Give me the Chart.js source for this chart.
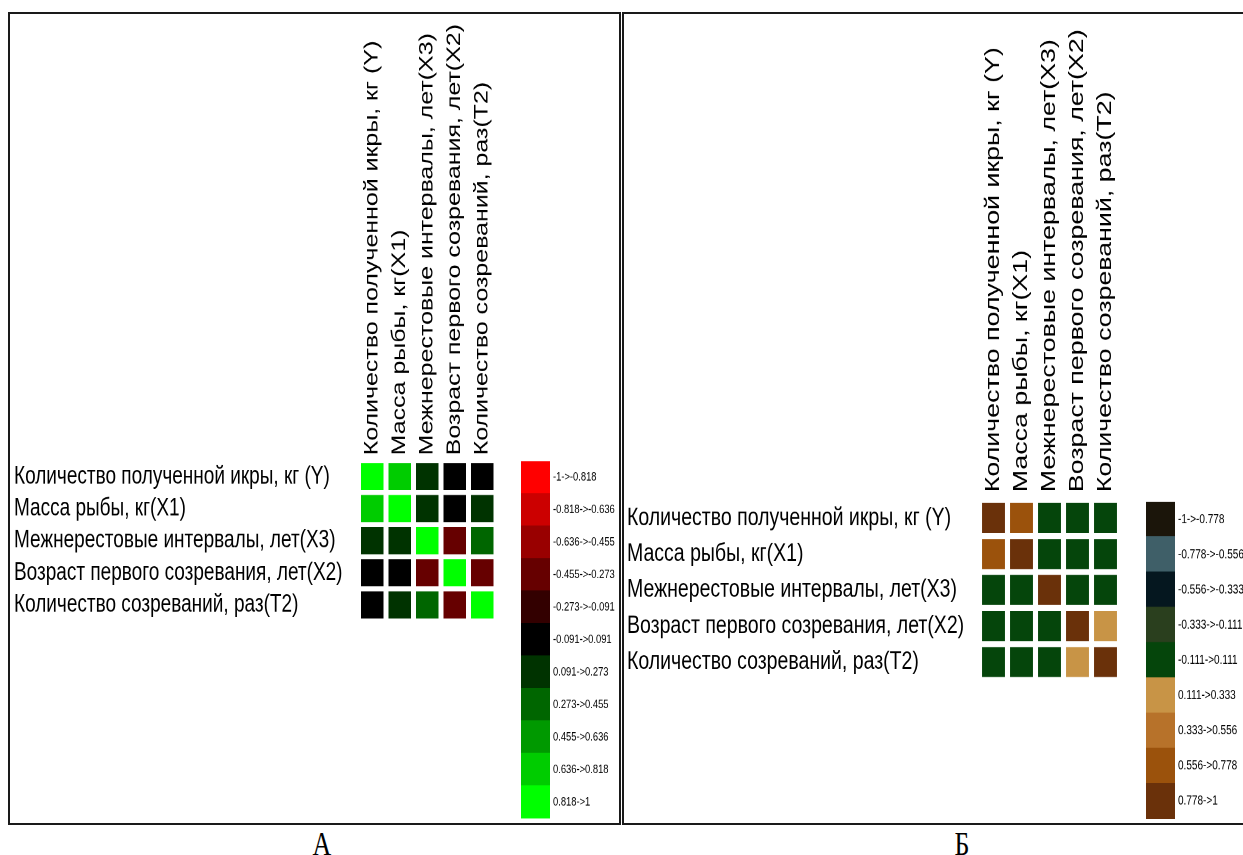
<!DOCTYPE html>
<html>
<head>
<meta charset="utf-8">
<script src="https://cdn.jsdelivr.net/npm/chart.js@4"></script>
<style>
  body { margin: 0; background: #fff; }
  #page { position: relative; width: 1243px; height: 855px; overflow: hidden; background: #fff; }
  .box { position: absolute; box-sizing: border-box; border: 2px solid #1a1a1a; }
  /* the source figure is stretched vertically, so every chart is drawn flat and scaled up */
  .wrap { position: absolute; transform: scaleY(1.3); transform-origin: 0 0; }
  .cap { position: absolute; width: 60px; text-align: center; font-family: 'Liberation Serif', 'Times New Roman', serif;
         font-size: 26px; line-height: 26px; transform: scale(1, 1.3); transform-origin: 50% 0; color: #000; }
</style>
</head>
<body>
<div id="page">
  <div class="box" style="left:8px;top:12px;width:613px;height:813px"></div>
  <div class="box" style="left:622px;top:12px;width:700px;height:813px"></div>

  <div class="wrap" style="left:0;top:0;width:500px;height:492px"><canvas id="heatA"></canvas></div>
  <div class="wrap" style="left:515px;top:450px;width:105px;height:292px"><canvas id="keyA"></canvas></div>

  <div class="wrap" style="left:622px;top:0;width:520px;height:538px"><canvas id="heatB"></canvas></div>
  <div class="wrap" style="left:1140px;top:490px;width:103px;height:261.5px"><canvas id="keyB"></canvas></div>

  <div class="cap" style="left:292px;top:828px">А</div>
  <div class="cap" style="left:932px;top:828px">Б</div>
</div>

<script>
// variables (rows and columns are the same list)
const rowNames = [
  'Количество полученной икры, кг (Y)',
  'Масса рыбы, кг(X1)',
  'Межнерестовые интервалы, лет(X3)',
  'Возраст первого созревания, лет(X2)',
  'Количество созреваний, раз(T2)'
];
const colNames = rowNames;

// correlation matrix, panel A
const corrA = [
  [1.00, 0.72, 0.18, 0.02, -0.03],
  [0.72, 1.00, 0.15, 0.01, 0.20],
  [0.18, 0.15, 1.00, -0.35, 0.36],
  [0.02, 0.01, -0.35, 1.00, -0.38],
  [-0.03, 0.20, 0.36, -0.38, 1.00]
];

// correlation matrix, panel Б
const corrB = [
  [1.00, 0.65, 0.05, 0.03, 0.02],
  [0.65, 1.00, 0.04, 0.02, 0.06],
  [0.05, 0.04, 1.00, 0.01, 0.08],
  [0.03, 0.02, 0.01, 1.00, 0.20],
  [0.02, 0.06, 0.08, 0.20, 1.00]
];

// colour scale A
const edgesA = [-1, -0.818, -0.636, -0.455, -0.273, -0.091, 0.091, 0.273, 0.455, 0.636, 0.818, 1];
const colorsA = ['#ff0000', '#cc0000', '#990000', '#660000', '#330000', '#000000',
                 '#003300', '#006600', '#009900', '#00cc00', '#00ff00'];
const binLabelsA = ['-1->-0.818', '-0.818->-0.636', '-0.636->-0.455', '-0.455->-0.273', '-0.273->-0.091',
                    '-0.091->0.091', '0.091->0.273', '0.273->0.455', '0.455->0.636', '0.636->0.818', '0.818->1'];

// colour scale Б
const edgesB = [-1, -0.778, -0.556, -0.333, -0.111, 0.111, 0.333, 0.556, 0.778, 1];
const colorsB = ['#1b150a', '#3f5f68', '#05171f', '#2a3f1e', '#05450b',
                 '#c89446', '#b7722a', '#9b520c', '#6a310a'];
const binLabelsB = ['-1->-0.778', '-0.778->-0.556', '-0.556->-0.333', '-0.333->-0.111', '-0.111->0.111',
                    '0.111->0.333', '0.333->0.556', '0.556->0.778', '0.778->1'];

const sans = "'Liberation Sans', Arial, sans-serif";

Chart.defaults.color = '#000';

function binColor(v, edges, colors) {
  for (let i = 0; i < colors.length; i++) {
    if (v <= edges[i + 1]) return colors[i];
  }
  return colors[colors.length - 1];
}

function makeHeat(id, corr, edges, colors, o) {
  return new Chart(document.getElementById(id), {
    type: 'bar',
    data: {
      labels: colNames,
      datasets: corr.map((row, i) => ({
        label: rowNames[i],
        data: row.map(() => 1),
        backgroundColor: row.map(v => binColor(v, edges, colors)),
        borderColor: '#fff',
        borderWidth: { top: o.gap, bottom: o.gap, left: 0, right: 0 },
        borderSkipped: false,
        inflateAmount: 0,
        barPercentage: o.barPct,
        categoryPercentage: 1,
        yAxisID: 'y'
      }))
    },
    options: {
      responsive: true,
      maintainAspectRatio: false,
      animation: false,
      devicePixelRatio: 2,
      layout: { padding: { left: o.padLeft, right: o.padRight, top: 0, bottom: o.padBottom } },
      plugins: { legend: { display: false }, tooltip: { enabled: false } },
      scales: {
        x: {
          position: 'top',
          stacked: true,
          grid: { display: false, drawTicks: false },
          border: { display: false },
          // tiny lineHeight keeps the rotated labels centred over their column
          ticks: { autoSkip: false, minRotation: 90, maxRotation: 90, padding: o.colPad,
                   font: { family: sans, size: o.colFont, lineHeight: 0.01 } },
          afterFit: s => { s.height = o.top; }
        },
        y: { display: false, stacked: true, min: 0, max: 5, reverse: true },
        rows: {
          type: 'category',
          labels: rowNames,
          position: 'left',
          offset: true,
          grid: { display: false, drawTicks: false },
          border: { display: false },
          ticks: { autoSkip: false, crossAlign: 'far', font: { family: sans, size: o.rowFont } },
          afterFit: s => { s.width = o.labelW; }
        }
      }
    }
  });
}

function makeKey(id, labels, colors, o) {
  return new Chart(document.getElementById(id), {
    type: 'bar',
    data: {
      labels: labels,
      datasets: [{
        data: labels.map(() => 1),
        backgroundColor: colors,
        borderWidth: 0,
        inflateAmount: 0.5,
        barPercentage: 1,
        categoryPercentage: 1
      }]
    },
    options: {
      indexAxis: 'y',
      responsive: true,
      maintainAspectRatio: false,
      animation: false,
      devicePixelRatio: 2,
      layout: { padding: { left: o.padLeft, right: 0, top: o.padTop, bottom: o.padBottom } },
      plugins: { legend: { display: false }, tooltip: { enabled: false } },
      scales: {
        x: { display: false, min: 0, max: 1 },
        y: {
          position: 'right',
          grid: { display: false, drawTicks: false },
          border: { display: false },
          ticks: { autoSkip: false, crossAlign: 'near', padding: 3, font: { family: sans, size: o.font } },
          afterFit: s => { s.width = o.labelW; }
        }
      }
    }
  });
}

makeHeat('heatA', corrA, edgesA, colorsA, {
  padLeft: 14, labelW: 344.5, top: 354.2, padRight: 4, padBottom: 10.8,
  barPct: 0.82, gap: 1.9, colPad: 4, colFont: 19.2, rowFont: 19
});
makeKey('keyA', binLabelsA, colorsA, { padLeft: 6, labelW: 70, padTop: 6.2, padBottom: 6.6, font: 9.4 });

makeHeat('heatB', corrB, edgesB, colorsB, {
  padLeft: 5, labelW: 352.5, top: 384.6, padRight: 22.5, padBottom: 14.9,
  barPct: 0.82, gap: 2.3, colPad: 6, colFont: 20.6, rowFont: 19.5
});
makeKey('keyB', binLabelsB, colorsB, { padLeft: 6, labelW: 68, padTop: 5.4, padBottom: 6.9, font: 10 });
</script>
</body>
</html>
